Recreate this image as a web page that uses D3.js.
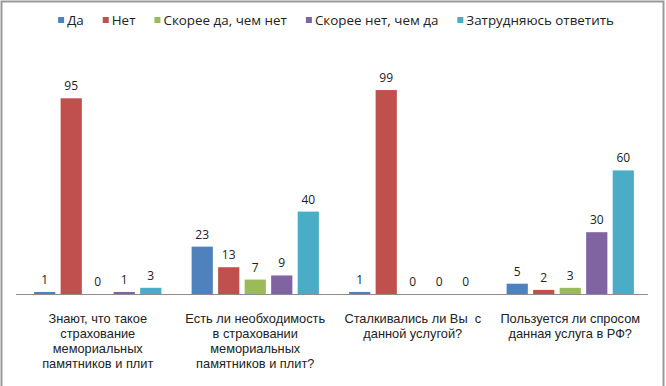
<!DOCTYPE html>
<html lang="ru">
<head>
  <meta charset="UTF-8">
  <title>Страхование мемориальных памятников</title>
  <script src="https://d3js.org/d3.v7.min.js"></script>
  <style>
    body {
      margin: 0;
      background: #fff;
      font-family: "Liberation Sans", Arial, sans-serif;
    }
    #chart {
      display: block;
    }
    .value-label {
      font-family: "Open Sans", sans-serif;
      font-size: 12px;
      fill: #222;
    }
    .cat-label {
      font-size: 12.8px;
      fill: #222;
      white-space: pre;
    }
    .legend-text {
      font-family: "Open Sans", sans-serif;
      font-size: 13.4px;
      fill: #222;
    }
  </style>
</head>
<body>

<div id="chart"></div>

<script>
  // данные
  const categories = [
    "Знают, что такое страхование мемориальных памятников и плит",
    "Есть ли необходимость в страховании мемориальных памятников и плит?",
    "Сталкивались ли Вы  с данной услугой?",
    "Пользуется ли спросом данная услуга в РФ?"
  ];
  // переносы строк для подписей категорий
  const categoryLines = [
    ["Знают, что такое", "страхование", "мемориальных", "памятников и плит"],
    ["Есть ли необходимость", "в страховании", "мемориальных", "памятников и плит?"],
    ["Сталкивались ли Вы  с", "данной услугой?"],
    ["Пользуется ли спросом", "данная услуга в РФ?"]
  ];
  const seriesNames = ["Да", "Нет", "Скорее да, чем нет", "Скорее нет, чем да", "Затрудняюсь ответить"];
  const seriesColors = ["#4F81BD", "#C0504D", "#9BBB59", "#8064A2", "#4BACC6"];

  const valuesDa      = [1, 23, 1, 5];
  const valuesNet     = [95, 13, 99, 2];
  const valuesSkDa    = [0, 7, 0, 3];
  const valuesSkNet   = [1, 9, 0, 30];
  const valuesZatr    = [3, 40, 0, 60];
  const seriesValues = [valuesDa, valuesNet, valuesSkDa, valuesSkNet, valuesZatr];

  const W = 666, H = 386;

  const svg = d3.select("#chart")
                .append("svg")
                .attr("width", W)
                .attr("height", H);

  // рамка
  svg.append("path")
     .attr("d", `M1.5,${H} V1.5 H663.5 V${H}`)
     .attr("fill", "none")
     .attr("stroke", "#9a9a9a")
     .attr("stroke-width", 2);

  const x0 = d3.scaleBand()
               .domain(d3.range(categories.length))
               .range([19, 649])
               .paddingInner(0)
               .paddingOuter(0);

  const x1 = d3.scaleBand()
               .domain(d3.range(seriesNames.length))
               .range([0, x0.bandwidth()])
               .paddingInner(0.2)
               .paddingOuter(0.57);

  const y = d3.scaleLinear()
              .domain([0, 100])
              .range([294, 88]);

  const rows = [];
  categories.forEach((c, i) => {
    seriesValues.forEach((vals, s) => {
      rows.push({cat: i, s: s, v: vals[i]});
    });
  });

  // столбцы
  svg.selectAll("rect.bar")
     .data(rows)
     .enter()
     .append("rect")
     .attr("class", "bar")
     .attr("x", d => x0(d.cat) + x1(d.s))
     .attr("y", d => y(d.v))
     .attr("width", x1.bandwidth())
     .attr("height", d => y(0) - y(d.v))
     .attr("fill", d => seriesColors[d.s]);

  // ось X
  svg.append("line")
     .attr("x1", 16)
     .attr("x2", 648)
     .attr("y1", y(0) + 0.5)
     .attr("y2", y(0) + 0.5)
     .attr("stroke", "#8c8c8c")
     .attr("stroke-width", 1);

  // подписи значений
  svg.selectAll("text.value-label")
     .data(rows)
     .enter()
     .append("text")
     .attr("class", "value-label")
     .attr("x", d => x0(d.cat) + x1(d.s) + x1.bandwidth() / 2)
     .attr("y", d => y(d.v) - 8)
     .attr("text-anchor", "middle")
     .text(d => d.v);

  // подписи категорий: каждая строка отдельным текстом
  const catLines = [];
  categoryLines.forEach((lines, i) => {
    lines.forEach((line, j) => catLines.push({line, i, j}));
  });

  svg.selectAll("text.cat-label")
     .data(catLines)
     .enter()
     .append("text")
     .attr("class", "cat-label")
     .attr("text-anchor", "middle")
     .attr("x", d => x0(d.i) + x0.bandwidth() / 2)
     .attr("y", d => 323 + d.j * 15)
     .text(d => d.line);

  // легенда
  const legend = svg.append("g");
  const items = legend.selectAll("g")
     .data(seriesNames)
     .enter()
     .append("g");

  items.append("rect")
       .attr("y", 17)
       .attr("width", 6)
       .attr("height", 6)
       .attr("fill", (d, i) => seriesColors[i]);

  items.append("text")
       .attr("class", "legend-text")
       .attr("x", 9)
       .attr("y", 25)
       .text(d => d);

  let lx = 0;
  const offsets = [];
  items.each(function() {
    offsets.push(lx);
    lx += 9 + this.querySelector("text").getComputedTextLength() + 19;
  });
  lx -= 19;
  const startX = 336 - lx / 2;
  items.attr("transform", (d, i) => `translate(${startX + offsets[i]},0)`);
</script>
</body>
</html>
